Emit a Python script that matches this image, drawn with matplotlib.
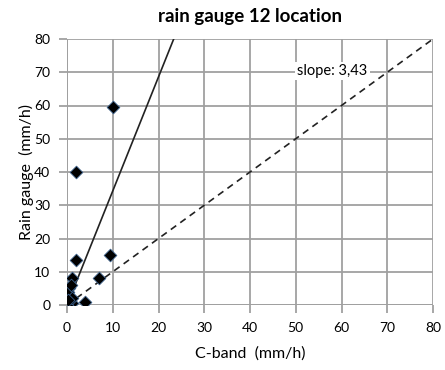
import matplotlib
matplotlib.use("Agg")
import matplotlib.pyplot as plt
import numpy as np

plt.rcParams['font.family'] = ['Lato', 'DejaVu Sans']

# C-band vs rain gauge values (mm/h)
cband = [10, 2, 2, 9.5, 7, 4, 1, 0.5, 0, 0, 0.5, 1, 0, 0.3, 1.2, 0.8, 0.2]
gauge = [59.5, 40, 13.5, 15, 8, 1, 8, 5, 3, 2, 1, 0.5, 0, 4, 2, 6, 1.5]
slope = 3.43
slope_label = "slope: 3,43"
ticks = [0, 10, 20, 30, 40, 50, 60, 70, 80]

fig = plt.figure(figsize=(4.45, 3.7), dpi=100)
ax = fig.add_axes([67/445, 1-305/370, 366/445, 266/370])

ax.scatter(cband, gauge, marker='D', s=42, color='black', edgecolor='#3a5f8a',
           linewidth=0.6, zorder=3)
xs = np.array([0, 80 / slope])
ax.plot(xs, slope * xs, color='#222222', lw=1.2, zorder=2)
ax.plot([0, 80], [0, 80], color='#222222', lw=1.2, ls=(0, (4, 3)), zorder=2)

ax.set_xlim(0, 80)
ax.set_ylim(0, 80)
ax.set_xticks(ticks)
ax.set_yticks(ticks)
ax.grid(True, color='#a0a0a0', lw=1.3)
ax.set_axisbelow(True)
for s in ax.spines.values():
    s.set_visible(False)
ax.tick_params(length=6, width=1.3, color='#a0a0a0', labelsize=10, pad=6)
ax.axhline(0, color='#a0a0a0', lw=1.3, zorder=1)
ax.axvline(0, color='#a0a0a0', lw=1.3, zorder=1)

ax.text(58, 70.5, slope_label, ha='center', va='center', fontsize=10.5,
        bbox=dict(facecolor='white', edgecolor='none', pad=1.5), zorder=2.5)

ax.set_xlabel("C-band  (mm/h)", fontsize=11.5, labelpad=9)
ax.set_ylabel("Rain gauge  (mm/h)", fontsize=11.5, labelpad=0)
ax.set_title("rain gauge 12 location", fontsize=13.5, fontweight='bold', pad=12)

fig.savefig("out.png", dpi=100)
